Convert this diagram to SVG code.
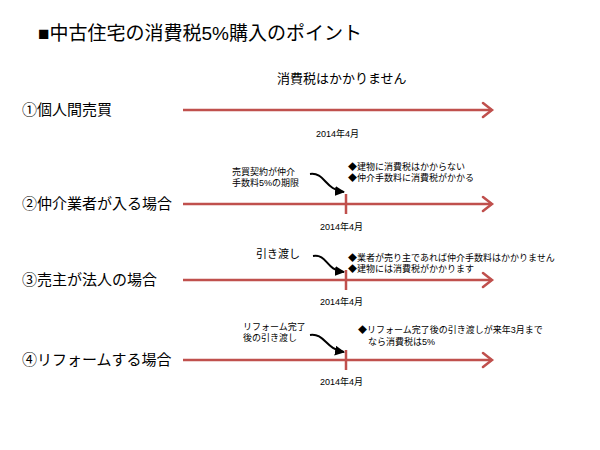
<svg xmlns="http://www.w3.org/2000/svg" width="600" height="450" viewBox="0 0 600 450">
<style>
text{font-family:"Liberation Sans","Noto Sans CJK JP",sans-serif;fill:#000}
.lbl{font-size:15px}
.sm{font-size:9px}
.tl{stroke:#c0504d;stroke-width:2.5;fill:none}
.ah{stroke:#c0504d;stroke-width:2.5;fill:none;stroke-linecap:round}
.cv{stroke:#000;stroke-width:2;fill:none}
</style>
<defs><marker id="b" viewBox="0 0 10 10" refX="9" refY="5" markerWidth="5" markerHeight="5" orient="auto"><path d="M0,0L10,5L0,10z" fill="#000"/></marker></defs>
<rect width="600" height="450" fill="#fff"/>
<text x="38" y="40" font-size="19">■中古住宅の消費税5%購入のポイント</text>
<g id="connectors">
<path class="tl" d="M183,110H492M183,204H492M183,280H492M183,360H492"/>
<path class="ah" d="M483,103L492,110L483,117M483,197L492,204L483,211M483,273L492,280L483,287M483,353L492,360L483,367"/>
<path class="tl" d="M346,194V214M346,270V290M346,350V370"/>
<path class="cv" marker-end="url(#b)" d="M310,174C325,172 325,190 344,192"/>
<path class="cv" marker-end="url(#b)" d="M313,256C328,254 325,270 344,272"/>
<path class="cv" marker-end="url(#b)" d="M310,335C325,333 325,349 344,352"/>
</g>
<g id="n1"><text class="lbl" x="22" y="115">①個人間売買</text><text x="277" y="83" font-size="13">消費税はかかりません</text><text class="sm" x="316" y="137">2014年4月</text></g>
<g id="n2"><text class="lbl" x="22" y="209">②仲介業者が入る場合</text><text class="sm" x="232" y="175">売買契約が仲介</text><text class="sm" x="232" y="186">手数料5%の期限</text><text class="sm" x="348" y="170">◆建物に消費税はかからない</text><text class="sm" x="348" y="181">◆仲介手数料に消費税がかかる</text><text class="sm" x="320" y="230">2014年4月</text></g>
<g id="n3"><text class="lbl" x="22" y="285">③売主が法人の場合</text><text x="256" y="258" font-size="11">引き渡し</text><text class="sm" x="348" y="261">◆業者が売り主であれば仲介手数料はかかりません</text><text class="sm" x="348" y="272">◆建物には消費税がかかります</text><text class="sm" x="320" y="305">2014年4月</text></g>
<g id="n4"><text class="lbl" x="22" y="365">④リフォームする場合</text><text class="sm" x="243" y="330">リフォーム完了</text><text class="sm" x="243" y="341">後の引き渡し</text><text class="sm" x="358" y="333">◆リフォーム完了後の引き渡しが来年3月まで</text><text class="sm" x="368" y="345">なら消費税は5%</text><text class="sm" x="320" y="385">2014年4月</text></g>
</svg>
